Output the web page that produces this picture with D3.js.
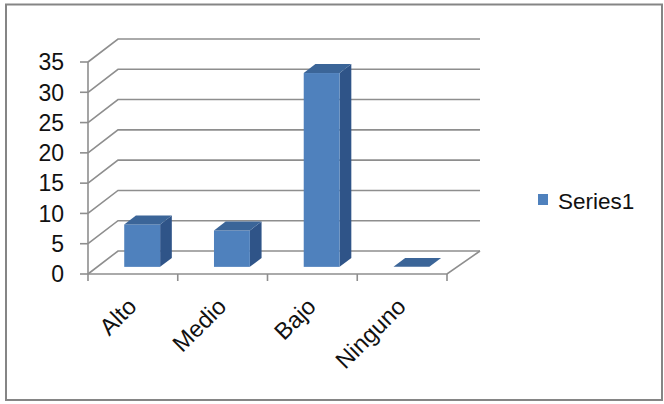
<!DOCTYPE html>
<html>
<head>
<meta charset="utf-8">
<script src="https://cdn.jsdelivr.net/npm/d3@7"></script>
<style>
  html, body { margin: 0; padding: 0; background: #fff; }
  svg text { font-family: "Liberation Sans", Arial, sans-serif; fill: #111; }
</style>
</head>
<body>
<svg id="chart" width="664" height="404"></svg>
<script>
// Chart data
const categories = ["Alto", "Medio", "Bajo", "Ninguno"];
const series1 = [7, 6, 32, 0];
const seriesName = "Series1";
const yTicks = [0, 5, 10, 15, 20, 25, 30, 35];

const svg = d3.select("#chart");

// Plot geometry: front plane of the 3D box and depth offset of the back wall
const plot = { left: 88, right: 447, top: 62, bottom: 274 };
const DEPTH = { dx: 30, dy: -23 };
const barDepth = [0.31, 0.70]; // fraction of the box depth occupied by the bars

const x = d3.scaleBand()
  .domain(categories)
  .range([plot.left, plot.right])
  .paddingInner(0.6)
  .paddingOuter(0.3);
const xTick = d3.scalePoint()
  .domain(d3.range(categories.length + 1))
  .range([plot.left, plot.right]);
const y = d3.scaleLinear().domain([0, 35]).range([plot.bottom, plot.top]);

const gridColor = "#8e8e8e";

// Outer chart frame
svg.append("rect")
  .attr("x", 6).attr("y", 4.5)
  .attr("width", 656).attr("height", 395.5)
  .attr("fill", "none")
  .attr("stroke", "#858585")
  .attr("stroke-width", 2);

// Walls: horizontal gridlines on the side wall and back wall
const grid = svg.append("g")
  .attr("stroke", gridColor)
  .attr("stroke-width", 1.6)
  .attr("fill", "none");

yTicks.forEach(t => {
  const yy = y(t);
  grid.append("path")
    .attr("d", `M${plot.left},${yy} L${plot.left + DEPTH.dx},${yy + DEPTH.dy} L${plot.right + DEPTH.dx + 3},${yy + DEPTH.dy}`);
});

// Floor outline
grid.append("path")
  .attr("d", `M${plot.left},${plot.bottom} L${plot.right},${plot.bottom} L${plot.right + DEPTH.dx + 3},${plot.bottom + DEPTH.dy}`);

// Bars (front, side and top faces)
const bars = svg.append("g");
series1.forEach((v, i) => {
  const c = categories[i];
  const ox0 = DEPTH.dx * barDepth[0], oy0 = DEPTH.dy * barDepth[0];
  const ox1 = DEPTH.dx * barDepth[1], oy1 = DEPTH.dy * barDepth[1];
  const xl = x(c) + ox0, xr = x(c) + x.bandwidth() + ox0;
  const yb = y(0) + oy0, yt = y(v) + oy0;
  const ddx = ox1 - ox0, ddy = oy1 - oy0;
  const g = bars.append("g");
  // side face
  g.append("path")
    .attr("d", `M${xr},${yb} L${xr + ddx},${yb + ddy} L${xr + ddx},${yt + ddy} L${xr},${yt} Z`)
    .attr("fill", "#2f5488");
  // front face
  if (v > 0) {
    g.append("rect")
      .attr("x", xl).attr("y", yt)
      .attr("width", xr - xl).attr("height", yb - yt)
      .attr("fill", "#4f81bd");
  }
  // top face
  g.append("path")
    .attr("d", `M${xl},${yt} L${xr},${yt} L${xr + ddx},${yt + ddy} L${xl + ddx},${yt + ddy} Z`)
    .attr("fill", "#3b6598");
});

// Value axis
const axisG = svg.append("g")
  .attr("stroke", gridColor)
  .attr("stroke-width", 1.6);
axisG.append("line")
  .attr("x1", plot.left).attr("x2", plot.left)
  .attr("y1", y(35)).attr("y2", y(0));
yTicks.forEach(t => {
  axisG.append("line")
    .attr("x1", plot.left - 8).attr("x2", plot.left)
    .attr("y1", y(t)).attr("y2", y(t));
});
xTick.domain().forEach(k => {
  axisG.append("line")
    .attr("x1", xTick(k)).attr("x2", xTick(k))
    .attr("y1", plot.bottom).attr("y2", plot.bottom + 7);
});

// Value axis labels
svg.append("g").selectAll("text")
  .data(yTicks)
  .join("text")
  .attr("x", 64)
  .attr("y", d => y(d))
  .attr("dy", "0.36em")
  .attr("text-anchor", "end")
  .attr("font-size", 23)
  .text(d => d);

// Category labels, rotated 45 degrees
svg.append("g").selectAll("text")
  .data(categories)
  .join("text")
  .attr("text-anchor", "end")
  .attr("font-size", 23.5)
  .attr("transform", d => `translate(${x(d) + x.bandwidth() / 2 + 5},${308}) rotate(-45)`)
  .text(d => d);

// Legend
const legend = svg.append("g").attr("transform", "translate(538,194)");
legend.append("rect")
  .attr("width", 10).attr("height", 11)
  .attr("fill", "#4f81bd");
legend.append("text")
  .attr("x", 20).attr("y", 15)
  .attr("font-size", 22.5)
  .text(seriesName);
</script>
</body>
</html>
